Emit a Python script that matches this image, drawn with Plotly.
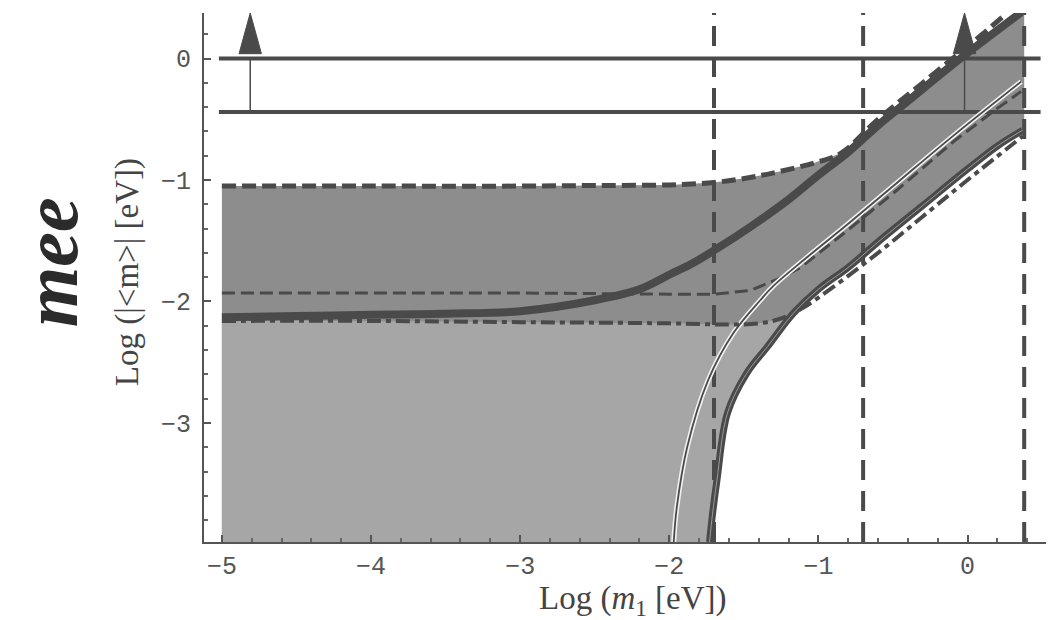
import plotly.graph_objects as go
import numpy as np

# ---------------- data ----------------
x_ticks = [-5, -4, -3, -2, -1, 0]
y_ticks = [-3, -2, -1, 0]

hline_y = [0.0, -0.44]
hline_x = [-5.02, 0.49]
vline_x = [-1.70, -0.70, 0.38]
arrow_x = [-4.81, -0.02]

upper_dash_x = [-5.0, -4.0, -3.0, -2.5, -2.0, -1.7, -1.46, -1.26, -1.03, -0.85, -0.6, -0.3, 0.0, 0.1, 0.26]
upper_dash_y = [-1.05, -1.05, -1.05, -1.045, -1.04, -1.02, -0.98, -0.93, -0.86, -0.78, -0.50, -0.20, 0.10, 0.20, 0.37]

thick_upper_x = [-5.0, -4.5, -4.0, -3.5, -3.0, -2.5, -2.2, -2.0, -1.85, -1.7, -1.45, -1.2, -1.0, -0.8, -0.6, -0.4, -0.1, 0.1, 0.36]
thick_upper_y = [-2.13, -2.12, -2.11, -2.10, -2.08, -1.99, -1.90, -1.78, -1.69, -1.58, -1.38, -1.16, -0.96, -0.77, -0.55, -0.35, -0.05, 0.14, 0.38]

mid_dash_x = [-5.0, -4.0, -3.0, -2.0, -1.7, -1.46, -1.26, -1.12, -0.94, -0.81, -0.47, -0.09, 0.2, 0.36]
mid_dash_y = [-1.93, -1.93, -1.93, -1.94, -1.94, -1.91, -1.81, -1.72, -1.55, -1.42, -1.08, -0.68, -0.41, -0.27]

thin_solid_x = [-1.97, -1.95, -1.88, -1.74, -1.57, -1.39, -1.30, -1.07, -0.81, -0.47, -0.09, 0.36]
thin_solid_y = [-3.98, -3.70, -3.20, -2.65, -2.26, -1.99, -1.87, -1.63, -1.37, -1.02, -0.63, -0.19]

thick_lower_x = [-1.73, -1.71, -1.68, -1.61, -1.48, -1.34, -1.17, -1.0, -0.8, -0.6, -0.3, 0.0, 0.2, 0.37]
thick_lower_y = [-3.98, -3.75, -3.47, -2.92, -2.59, -2.37, -2.10, -1.90, -1.72, -1.51, -1.21, -0.91, -0.72, -0.59]

lower_dd_x = [-5.0, -4.0, -3.0, -2.0, -1.6, -1.4, -1.25, -1.1, -0.9, -0.6, -0.3, 0.0, 0.37]
lower_dd_y = [-2.16, -2.16, -2.17, -2.18, -2.19, -2.18, -2.14, -2.05, -1.88, -1.60, -1.30, -1.00, -0.64]

# ---------------- styling ----------------
X_RANGE = [-5.12, 0.58]
Y_RANGE = [-3.98, 0.375]
LINE = "#4a4a4a"
MID_FILL = "#8d8d8d"
LIGHT_FILL = "#a6a6a6"

fig = go.Figure()

# outer shaded region (built from curve arrays)
ux = np.array(upper_dash_x); uy = np.array(upper_dash_y)
tx = np.array(thick_upper_x); ty = np.array(thick_upper_y)
lx = np.array(thick_lower_x); ly = np.array(thick_lower_y)
dx = np.array(lower_dd_x); dy = np.array(lower_dd_y)
merge = -0.85
right = vline_x[-1]
outer_x = np.concatenate([[ux[0]], ux[ux <= merge], tx[tx > merge], [right, right], lx[::-1], [ux[0]]])
outer_y = np.concatenate([[Y_RANGE[0]], uy[ux <= merge], ty[tx > merge], [Y_RANGE[1], ly[-1]], ly[::-1], [Y_RANGE[0]]])
fig.add_trace(go.Scatter(x=outer_x, y=outer_y, fill="toself", fillcolor=MID_FILL,
                         mode="none", hoverinfo="skip", showlegend=False))

# lighter region below the lower dash-dot curve
cut = -1.17
light_x = np.concatenate([[dx[0]], dx[dx <= cut], lx[lx <= cut][::-1], [dx[0]]])
light_y = np.concatenate([[Y_RANGE[0]], dy[dx <= cut], ly[lx <= cut][::-1], [Y_RANGE[0]]])
fig.add_trace(go.Scatter(x=light_x, y=light_y, fill="toself", fillcolor=LIGHT_FILL,
                         mode="none", hoverinfo="skip", showlegend=False))

# vertical dashed lines
vx, vy = [], []
for v in vline_x:
    vx += [v, v, None]; vy += [Y_RANGE[0], Y_RANGE[1], None]
fig.add_trace(go.Scatter(x=vx, y=vy, mode="lines", line=dict(color=LINE, width=4, dash="20px,11px"),
                         hoverinfo="skip", showlegend=False))

# horizontal solid lines
hx, hy = [], []
for h in hline_y:
    hx += [hline_x[0], hline_x[1], None]; hy += [h, h, None]
fig.add_trace(go.Scatter(x=hx, y=hy, mode="lines", line=dict(color=LINE, width=4),
                         hoverinfo="skip", showlegend=False))

# middle dashed curve
fig.add_trace(go.Scatter(x=mid_dash_x, y=mid_dash_y, mode="lines",
                         line=dict(color=LINE, width=3, dash="13px,6px"), hoverinfo="skip", showlegend=False))

# thin solid with white halo
fig.add_trace(go.Scatter(x=thin_solid_x, y=thin_solid_y, mode="lines", line=dict(color="#f2f2f2", width=5, shape="spline"),
                         hoverinfo="skip", showlegend=False))
fig.add_trace(go.Scatter(x=thin_solid_x, y=thin_solid_y, mode="lines", line=dict(color=LINE, width=1.8, shape="spline"),
                         hoverinfo="skip", showlegend=False))

# lower dash-dot curve
fig.add_trace(go.Scatter(x=lower_dd_x, y=lower_dd_y, mode="lines",
                         line=dict(color=LINE, width=4, dash="14px,5px,5px,5px", shape="spline"),
                         hoverinfo="skip", showlegend=False))

# thick lower curve
fig.add_trace(go.Scatter(x=thick_lower_x, y=thick_lower_y, mode="lines",
                         line=dict(color=LINE, width=7, shape="spline"), hoverinfo="skip", showlegend=False))
fig.add_trace(go.Scatter(x=thick_lower_x, y=thick_lower_y, mode="lines",
                         line=dict(color="#9a9a9a", width=1, shape="spline"), hoverinfo="skip", showlegend=False))

# upper dashed boundary
fig.add_trace(go.Scatter(x=upper_dash_x, y=upper_dash_y, mode="lines",
                         line=dict(color=LINE, width=5, dash="14px,6px", shape="spline"),
                         hoverinfo="skip", showlegend=False))

# thick upper curve
fig.add_trace(go.Scatter(x=thick_upper_x, y=thick_upper_y, mode="lines",
                         line=dict(color=LINE, width=8, shape="spline"), hoverinfo="skip", showlegend=False))

# arrows: thin stem between the two horizontal lines, triangular head above
HEAD_HALF = 0.075
HEAD_BASE = 0.04
for a in arrow_x:
    fig.add_trace(go.Scatter(x=[a, a], y=[hline_y[1], hline_y[0]], mode="lines",
                             line=dict(color=LINE, width=1.5), hoverinfo="skip", showlegend=False))
    fig.add_trace(go.Scatter(x=[a - HEAD_HALF, a, a + HEAD_HALF, a - HEAD_HALF],
                             y=[HEAD_BASE, Y_RANGE[1], HEAD_BASE, HEAD_BASE],
                             fill="toself", fillcolor=LINE, mode="lines", line=dict(color=LINE, width=1),
                             hoverinfo="skip", showlegend=False))

tick_font = dict(family="Liberation Mono, Courier New, monospace", size=25, color="#555555")
serif = "Liberation Serif, Times New Roman, serif"

fig.update_layout(
    width=1046, height=612,
    margin=dict(l=196, r=0, t=5, b=78),
    paper_bgcolor="white", plot_bgcolor="white",
    xaxis=dict(range=X_RANGE, tickvals=x_ticks, ticks="inside", ticklen=7, tickwidth=1.5, tickcolor="#555",
               showline=True, linecolor="#555", linewidth=2, showgrid=False, zeroline=False,
               tickfont=tick_font, ticklabelstandoff=0,
               minor=dict(dtick=0.2, ticks="inside", ticklen=4, tickcolor="#666", showgrid=False)),
    xaxis2=dict(range=X_RANGE, overlaying="x", side="top", tickvals=x_ticks, ticks="inside", ticklen=7,
                tickcolor="#777", showline=True, linecolor="#888", linewidth=1, showgrid=False,
                zeroline=False, showticklabels=False,
                minor=dict(dtick=0.2, ticks="inside", ticklen=4, tickcolor="#888", showgrid=False)),
    yaxis=dict(range=Y_RANGE, tickvals=y_ticks, ticks="inside", ticklen=7, tickwidth=1.5, tickcolor="#555",
               showline=True, linecolor="#555", linewidth=2, showgrid=False, zeroline=False,
               tickfont=tick_font, ticklabelstandoff=6,
               minor=dict(dtick=0.2, ticks="inside", ticklen=4, tickcolor="#666", showgrid=False)),
    showlegend=False,
    annotations=[
        dict(text="Log (<i>m</i><sub>1</sub> [eV])", xref="paper", yref="paper", x=0.505, y=-0.110,
             xanchor="center", yanchor="middle", showarrow=False,
             font=dict(family=serif, size=33, color="#444")),
        dict(text="Log (|&lt;m&gt;| [eV])", xref="paper", yref="paper", x=-0.0906, y=0.51,
             xanchor="center", yanchor="middle", showarrow=False, textangle=-90,
             font=dict(family=serif, size=33, color="#444")),
        dict(text="<b><i>mee</i></b>", xref="paper", yref="paper", x=-0.181, y=0.529,
             xanchor="center", yanchor="middle", showarrow=False, textangle=-90,
             font=dict(family=serif, size=78, color="#2b2b2b")),
    ],
)

fig.write_html("out.html")
